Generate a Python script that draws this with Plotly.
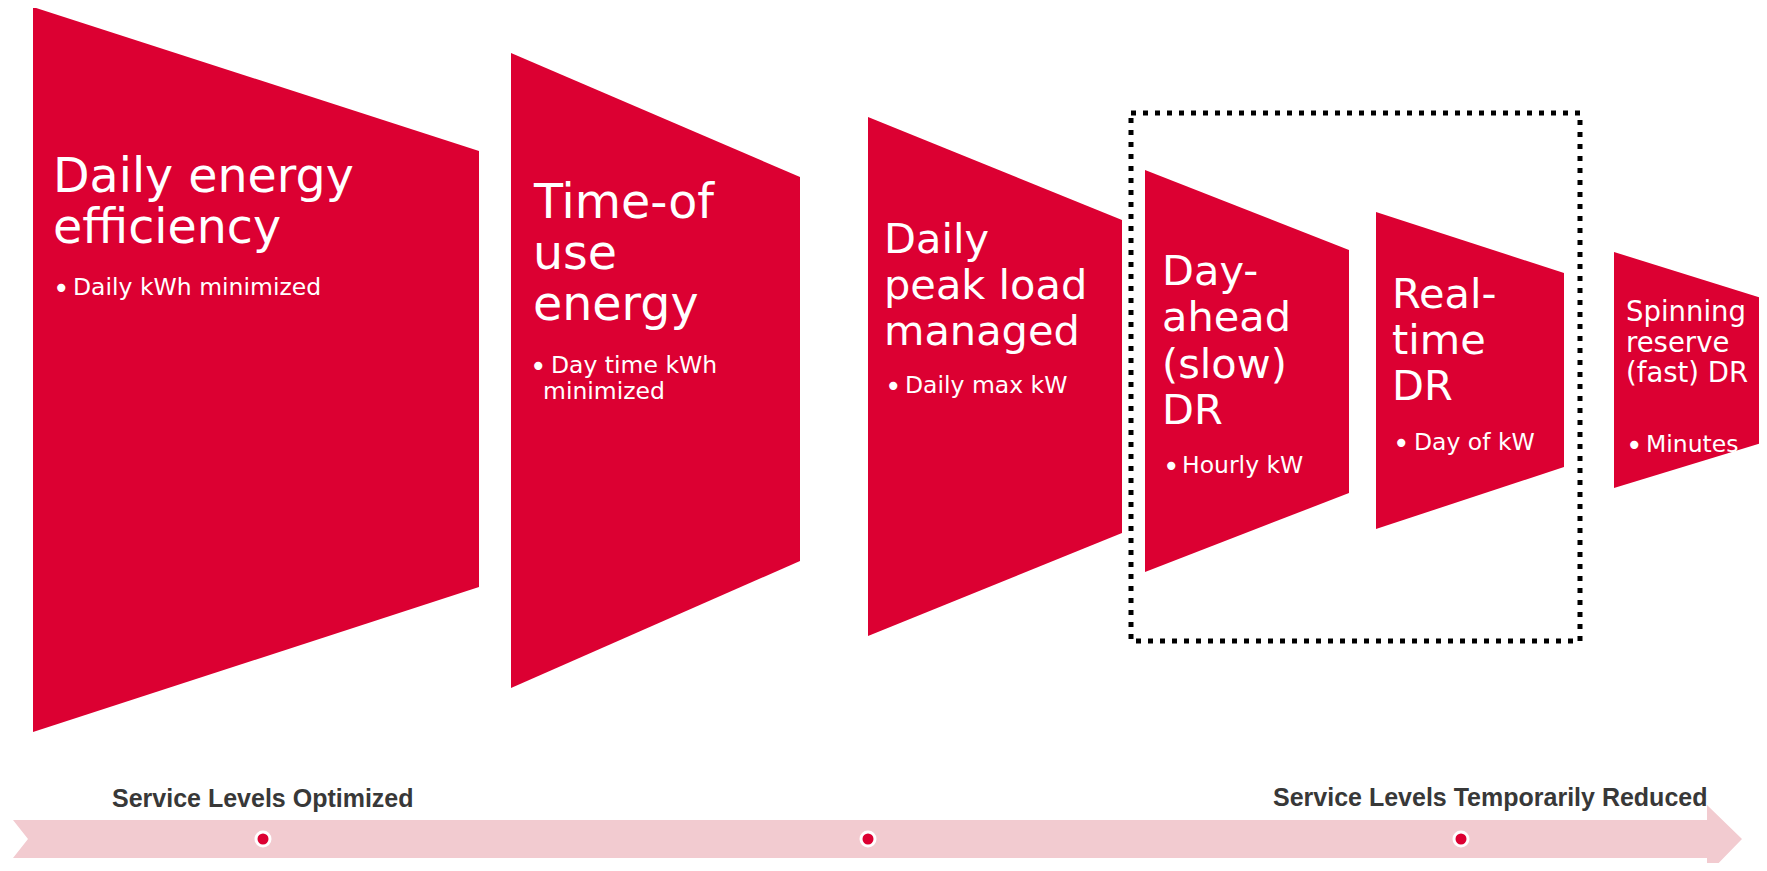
import plotly.graph_objects as go

# ---------------- content ----------------
stage_titles = [
    ["Daily energy", "efficiency"],
    ["Time-of", "use", "energy"],
    ["Daily", "peak load", "managed"],
    ["Day-", "ahead", "(slow)", "DR"],
    ["Real-", "time", "DR"],
    ["Spinning", "reserve", "(fast) DR"],
]
stage_bullets = [
    ["Daily kWh minimized"],
    ["Day time kWh", "minimized"],
    ["Daily max kW"],
    ["Hourly kW"],
    ["Day of kW"],
    ["Minutes"],
]
timeline_labels = ["Service Levels Optimized", "Service Levels Temporarily Reduced"]

# ---------------- geometry (pixel space) ----------------
stage_x_left = [33, 511, 868, 1145, 1376, 1614]
stage_x_right = [479, 800, 1122, 1349, 1564, 1765]
stage_top_left = [7, 53, 117, 170, 212, 252]
stage_top_right = [151, 177, 220, 250, 273, 299]
stage_bottom_left = [732, 688, 636, 572, 529, 488]
stage_bottom_right = [587, 561, 533, 493, 467, 442]

title_x = [53, 533, 884, 1162, 1392, 1626]
title_baseline = [192, 218, 253, 285, 308, 321]
title_step = [51.5, 51, 46, 46.5, 46, 30.5]
title_size = [47.5, 47.5, 41.5, 41.5, 41.5, 27.5]

bullet_x = [61, 538, 893, 1171, 1401, 1634]
bullet_text_x = [72.7, 550.7, 904.7, 1181.7, 1413.7, 1645.7]
bullet_baseline = [295, 373, 393, 473, 450, 452]
bullet_step = 26
bullet_cont_shift = -8
bullet_size = 23.5
bullet_glyph_size = 28
bullet_glyph_drop = 3.5

frame_x = [1131, 1580]
frame_y = [113, 641]

band_x = [13, 1707, 1742]
band_y = [820, 858]
head_y = [805, 875]
notch_x = 28
band_mid = 839
dot_x = [263, 868, 1461]
label_x = [112, 1707]
label_baseline = [807, 806]
label_size = 25

RED = "#DC0032"
PINK = "#F2CBD0"
GREY = "#383838"
FONT = "DejaVu Sans"

W, H, OFF = 1751, 855, 8

fig = go.Figure()

# timeline band with notch and arrowhead
bx = [band_x[0], band_x[1], band_x[1], band_x[2], band_x[1], band_x[1], band_x[0], notch_x, band_x[0]]
by = [band_y[0], band_y[0], head_y[0], band_mid, head_y[1], band_y[1], band_y[1], band_mid, band_y[0]]
fig.add_trace(go.Scatter(x=bx, y=by, mode="lines", fill="toself", fillcolor=PINK,
                         line=dict(width=0, color=PINK), hoverinfo="skip"))

# stage trapezoids
for i in range(len(stage_titles)):
    xs = [stage_x_left[i], stage_x_right[i], stage_x_right[i], stage_x_left[i], stage_x_left[i]]
    ys = [stage_top_left[i], stage_top_right[i], stage_bottom_right[i], stage_bottom_left[i], stage_top_left[i]]
    fig.add_trace(go.Scatter(x=xs, y=ys, mode="lines", fill="toself", fillcolor=RED,
                             line=dict(width=0, color=RED), hoverinfo="skip"))

# dotted frame
fx = [frame_x[0], frame_x[1], frame_x[1], frame_x[0], frame_x[0]]
fy = [frame_y[0], frame_y[0], frame_y[1], frame_y[1], frame_y[0]]
fig.add_trace(go.Scatter(x=fx, y=fy, mode="lines",
                         line=dict(width=5, color="black", dash="5px,7px"), hoverinfo="skip"))

# timeline dots
fig.add_trace(go.Scatter(x=dot_x, y=[band_mid] * len(dot_x), mode="markers",
                         marker=dict(size=14, color=RED, line=dict(width=3, color="white")),
                         hoverinfo="skip"))

ann = []
def add_text(x, baseline, text, size, color, anchor="left", family=FONT, bold=False):
    t = f"<b>{text}</b>" if bold else text
    ann.append(dict(x=x, y=baseline - 0.35 * size, xref="x", yref="y", text=t,
                    showarrow=False, xanchor=anchor, yanchor="middle",
                    borderwidth=0, borderpad=0,
                    font=dict(family=family, size=size, color=color)))

for i, lines in enumerate(stage_titles):
    for j, line in enumerate(lines):
        add_text(title_x[i], title_baseline[i] + j * title_step[i], line, title_size[i], "white")
    for j, line in enumerate(stage_bullets[i]):
        yb = bullet_baseline[i] + j * bullet_step
        if j == 0:
            add_text(bullet_x[i], yb + bullet_glyph_drop, "•",
                     bullet_glyph_size, "white", anchor="center")
            add_text(bullet_text_x[i], yb, line, bullet_size, "white")
        else:
            add_text(bullet_text_x[i] + bullet_cont_shift, yb, line, bullet_size, "white")

add_text(label_x[0], label_baseline[0], timeline_labels[0], label_size, GREY,
         family="Liberation Sans", bold=True)
add_text(label_x[1], label_baseline[1], timeline_labels[1], label_size, GREY,
         anchor="right", family="Liberation Sans", bold=True)

fig.update_layout(
    width=W, height=H, margin=dict(l=0, r=0, t=0, b=0),
    paper_bgcolor="white", plot_bgcolor="white", showlegend=False,
    xaxis=dict(range=[OFF, OFF + W], visible=False, fixedrange=True),
    yaxis=dict(range=[OFF + H, OFF], visible=False, fixedrange=True),
    annotations=ann,
)

fig.write_html("out.html")
